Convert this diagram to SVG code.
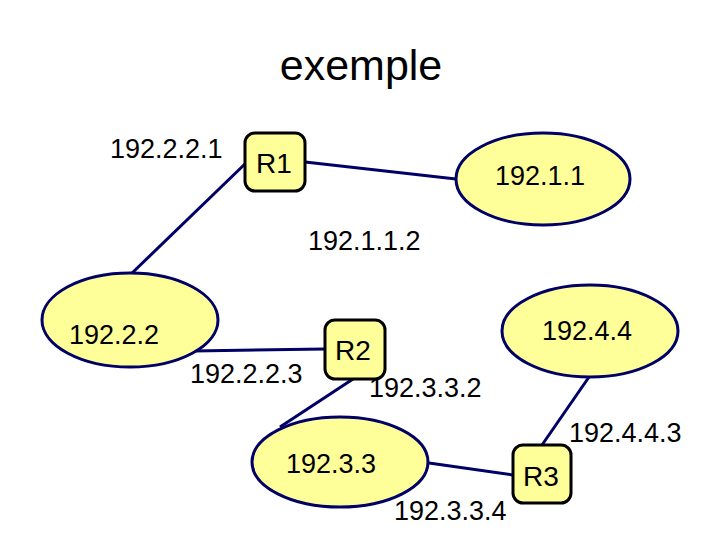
<svg xmlns="http://www.w3.org/2000/svg" width="720" height="540" viewBox="0 0 720 540">
<style>
.bg{fill:#ffffff}
.net{fill:#ffff99;stroke:#000066;stroke-width:3}
.rt{fill:#ffff99;stroke:#000000;stroke-width:3}
.ln{stroke:#000066;stroke-width:3;fill:none}
text{font-family:"Liberation Sans",Arial,sans-serif;fill:#000000}
.lb{font-size:27px}
.rl{font-size:28px}
.tt{font-size:43px}
</style>
<rect class="bg" x="0" y="0" width="720" height="540"/>
<text class="tt" x="361" y="80" text-anchor="middle">exemple</text>
<g id="connectors">
<line class="ln" x1="247" y1="162" x2="130" y2="275"/>
<line class="ln" x1="305" y1="162" x2="456" y2="179"/>
<line class="ln" x1="193" y1="351" x2="325" y2="349"/>
<line class="ln" x1="353" y1="379" x2="280" y2="427"/>
<line class="ln" x1="429" y1="463" x2="513" y2="475"/>
<line class="ln" x1="542" y1="445" x2="589" y2="377"/>
</g>
<g id="net-192.1.1">
<ellipse class="net" cx="543" cy="179" rx="87" ry="46"/>
<text class="lb" x="495" y="185">192.1.1</text>
</g>
<g id="net-192.2.2">
<ellipse class="net" cx="130" cy="320" rx="88" ry="47"/>
<text class="lb" x="69" y="344">192.2.2</text>
</g>
<g id="net-192.3.3">
<ellipse class="net" cx="340" cy="462" rx="88" ry="45"/>
<text class="lb" x="286" y="473">192.3.3</text>
</g>
<g id="net-192.4.4">
<ellipse class="net" cx="590" cy="331" rx="88" ry="46"/>
<text class="lb" x="542" y="340">192.4.4</text>
</g>
<g id="R1">
<rect class="rt" x="245" y="133" width="60" height="58" rx="10"/>
<text class="rl" x="256" y="173">R1</text>
</g>
<g id="R2">
<rect class="rt" x="325" y="320" width="60" height="59" rx="10"/>
<text class="rl" x="335" y="360">R2</text>
</g>
<g id="R3">
<rect class="rt" x="513" y="445" width="58" height="58" rx="10"/>
<text class="rl" x="523" y="486">R3</text>
</g>
<g id="labels">
<text class="lb" x="110" y="158">192.2.2.1</text>
<text class="lb" x="308" y="250">192.1.1.2</text>
<text class="lb" x="190" y="383">192.2.2.3</text>
<text class="lb" x="369" y="397">192.3.3.2</text>
<text class="lb" x="569" y="442">192.4.4.3</text>
<text class="lb" x="394" y="520">192.3.3.4</text>
</g>
</svg>
